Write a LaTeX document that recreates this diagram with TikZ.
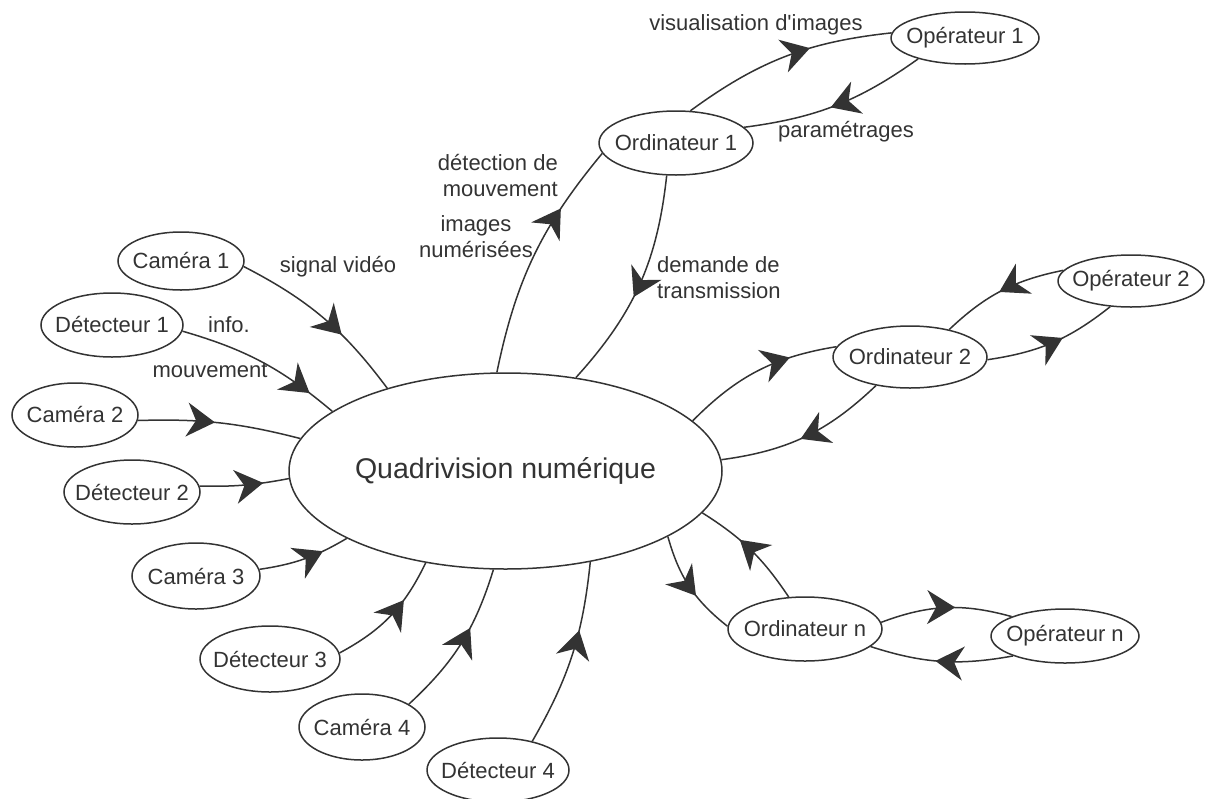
\documentclass[tikz,border=0pt]{standalone}
\usepackage{fontspec}
\setmainfont{Liberation Sans}
\usetikzlibrary{shapes.geometric,arrows.meta,decorations.markings}
\definecolor{gris}{HTML}{333333}
\newcommand{\dans}[1]{\makebox[0pt]{#1}}
\newcommand{\petit}{\fontsize{22}{26}\selectfont}
\newcommand{\grand}{\fontsize{28.5}{34}\selectfont}
\begin{document}
\begin{tikzpicture}[x=1pt,y=-1pt]
\tikzset{
    bulle/.style 2 args={draw=gris, ellipse, line width=1.5pt, inner sep=0pt, minimum width=#1, minimum height=#2, font=\petit, text=gris},
    fleche/.style={draw=gris, line width=1.5pt, postaction={decorate}, decoration={markings, mark=at position #1 with {\arrow[fill=gris]{Stealth[length=28pt,width=34pt,inset=9pt]}}}},
    etiq/.style={font=\petit, text=gris, inner sep=0pt}
}
\useasboundingbox (0,0) rectangle (1206,798);

\draw node[bulle={433}{196}, font=\grand] (quad) at (505.5,471) {\dans{Quadrivision numérique}};
\draw node[bulle={126}{58}] (cam1) at (181,261) {\dans{Caméra 1}};
\draw node[bulle={142}{64}] (det1) at (112,325) {\dans{Détecteur 1}};
\draw node[bulle={126}{64}] (cam2) at (75,415) {\dans{Caméra 2}};
\draw node[bulle={136}{64}] (det2) at (132,492) {\dans{Détecteur 2}};
\draw node[bulle={128}{66}] (cam3) at (196,576) {\dans{Caméra 3}};
\draw node[bulle={140}{66}] (det3) at (270,659) {\dans{Détecteur 3}};
\draw node[bulle={126}{66}] (cam4) at (362,727) {\dans{Caméra 4}};
\draw node[bulle={142}{64}] (det4) at (498,770) {\dans{Détecteur 4}};
\draw node[bulle={154}{64}] (ord1) at (676,143) {\dans{Ordinateur 1}};
\draw node[bulle={148}{52}] (op1) at (965,38) {\dans{Opérateur 1}};
\draw node[bulle={154}{62}] (ord2) at (910,357) {\dans{Ordinateur 2}};
\draw node[bulle={146}{52}] (op2) at (1131,281) {\dans{Opérateur 2}};
\draw node[bulle={154}{64}] (ordn) at (805,629) {\dans{Ordinateur n}};
\draw node[bulle={148}{54}] (opn) at (1065,636) {\dans{Opérateur n}};

\foreach \de/\vers/\courbe/\ou in {%
    cam1.-5/quad.145/13/0.63, det1.-5/quad.161/12/0.83,
    cam2.-5/quad.171.5/8/0.47, det2.5/quad.182/-6/0.71,
    cam3.6/quad.203/-11/0.71, det3.5/quad.229/-18/0.66,
    cam4.26/quad.263/-15/0.61, det4.40/quad.313.5/-12/0.635,
    quad.95/ord1.188/14/0.72, ord1.254/quad.53.5/18/0.56,
    ord1.66/op1.176/15/0.62, op1.204/ord1.13/14/0.53,
    quad.15.7/ord2.172/18/0.71, ord2.220/quad.3/18/0.53,
    ord2.-2/op2.231/-15/0.58, op2.171/ord2.35/-16/0.52,
    quad.338/ordn.178/-18/0.60, ordn.117/quad.348/-12/0.62,
    ordn.5/opn.160/18/0.57, opn.201/ordn.-15/14/0.54%
}{
\draw[fleche=\ou] (\de) to[bend left=\courbe] (\vers);
}

\node[etiq] (l1) at (338,267) {signal vidéo};
\node[etiq] (l2) at (229,325) {info.};
\node[etiq] (l3) at (210,370) {mouvement};
\node[etiq, align=right, anchor=east] (l4) at (558,176) {détection de\\mouvement};
\node[etiq, align=center] (l5) at (476,237) {images\\numérisées};
\node[etiq, align=left, anchor=west] (l6) at (657,278) {demande de\\transmission};
\node[etiq] (l7) at (756,25) {visualisation d\textquotesingle images};
\node[etiq] (l8) at (846,132) {paramétrages};
\end{tikzpicture}
\end{document}
